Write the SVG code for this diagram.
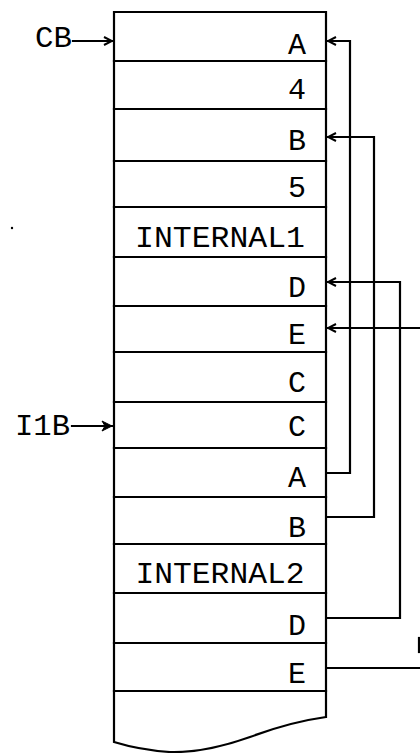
<svg xmlns="http://www.w3.org/2000/svg" width="420" height="753" viewBox="0 0 420 753">
<style>
.ln{fill:none;stroke:#000;stroke-width:2.2;stroke-linecap:square}
.tx{font-family:"Liberation Mono","DejaVu Sans Mono",monospace;font-size:30px;fill:#000}
.r{text-anchor:end}
.c{text-anchor:middle}
</style>
<defs>
<marker id="open" viewBox="0 0 10 10" refX="9" refY="5" markerWidth="10" markerHeight="10" markerUnits="userSpaceOnUse" orient="auto">
<path d="M1,1 L9,5 L1,9" fill="none" stroke="#000" stroke-width="2"/>
</marker>
<marker id="solid" viewBox="0 0 12 12" refX="11" refY="6" markerWidth="12" markerHeight="12" markerUnits="userSpaceOnUse" orient="auto">
<path d="M1,1 L11,6 L1,11 L4,6 Z" fill="#000" stroke="#000" stroke-width="1"/>
</marker>
</defs>
<rect width="420" height="753" fill="#fff"/>
<g id="memory">
<path class="ln" d="M114,12 L326,12 L326,717 Q290,722 250,737 Q205,753 170,752 Q140,750 114,742 Z"/>
<path class="ln" d="M114,61H326M114,109H326M114,161H326M114,207H326M114,257H326M114,306H326M114,352H326M114,402H326M114,448H326M114,497H326M114,544H326M114,593H326M114,643H326M114,691H326"/>
</g>
<g id="cells">
<text class="tx r" x="306" y="54">A</text>
<text class="tx r" x="306" y="99">4</text>
<text class="tx r" x="306" y="150">B</text>
<text class="tx r" x="306" y="197">5</text>
<text class="tx c" x="220" y="247" textLength="170" lengthAdjust="spacingAndGlyphs">INTERNAL1</text>
<text class="tx r" x="306" y="297">D</text>
<text class="tx r" x="306" y="344">E</text>
<text class="tx r" x="306" y="392">C</text>
<text class="tx r" x="306" y="436">C</text>
<text class="tx r" x="306" y="487">A</text>
<text class="tx r" x="306" y="537">B</text>
<text class="tx c" x="220" y="583" textLength="169" lengthAdjust="spacingAndGlyphs">INTERNAL2</text>
<text class="tx r" x="306" y="635">D</text>
<text class="tx r" x="306" y="683">E</text>
</g>
<g id="labels">
<text class="tx" x="35" y="47" textLength="37" lengthAdjust="spacingAndGlyphs">CB</text>
<text class="tx" x="15" y="435" textLength="55" lengthAdjust="spacingAndGlyphs">I1B</text>
</g>
<g id="connectors">
<path class="ln" d="M73,41 H112" marker-end="url(#open)"/>
<path class="ln" d="M72,426 H112" marker-end="url(#solid)"/>
<path class="ln" d="M327,473 H350 V41 H328" marker-end="url(#open)"/>
<path class="ln" d="M327,517 H374 V137 H328" marker-end="url(#open)"/>
<path class="ln" d="M327,618 H400 V282 H328" marker-end="url(#open)"/>
<path class="ln" d="M420,328 H328" marker-end="url(#open)"/>
<path class="ln" d="M327,668 H420"/>
<path class="ln" d="M419,638 V652"/>
</g>
<circle cx="12" cy="228" r="1.2" fill="#000"/>
</svg>
